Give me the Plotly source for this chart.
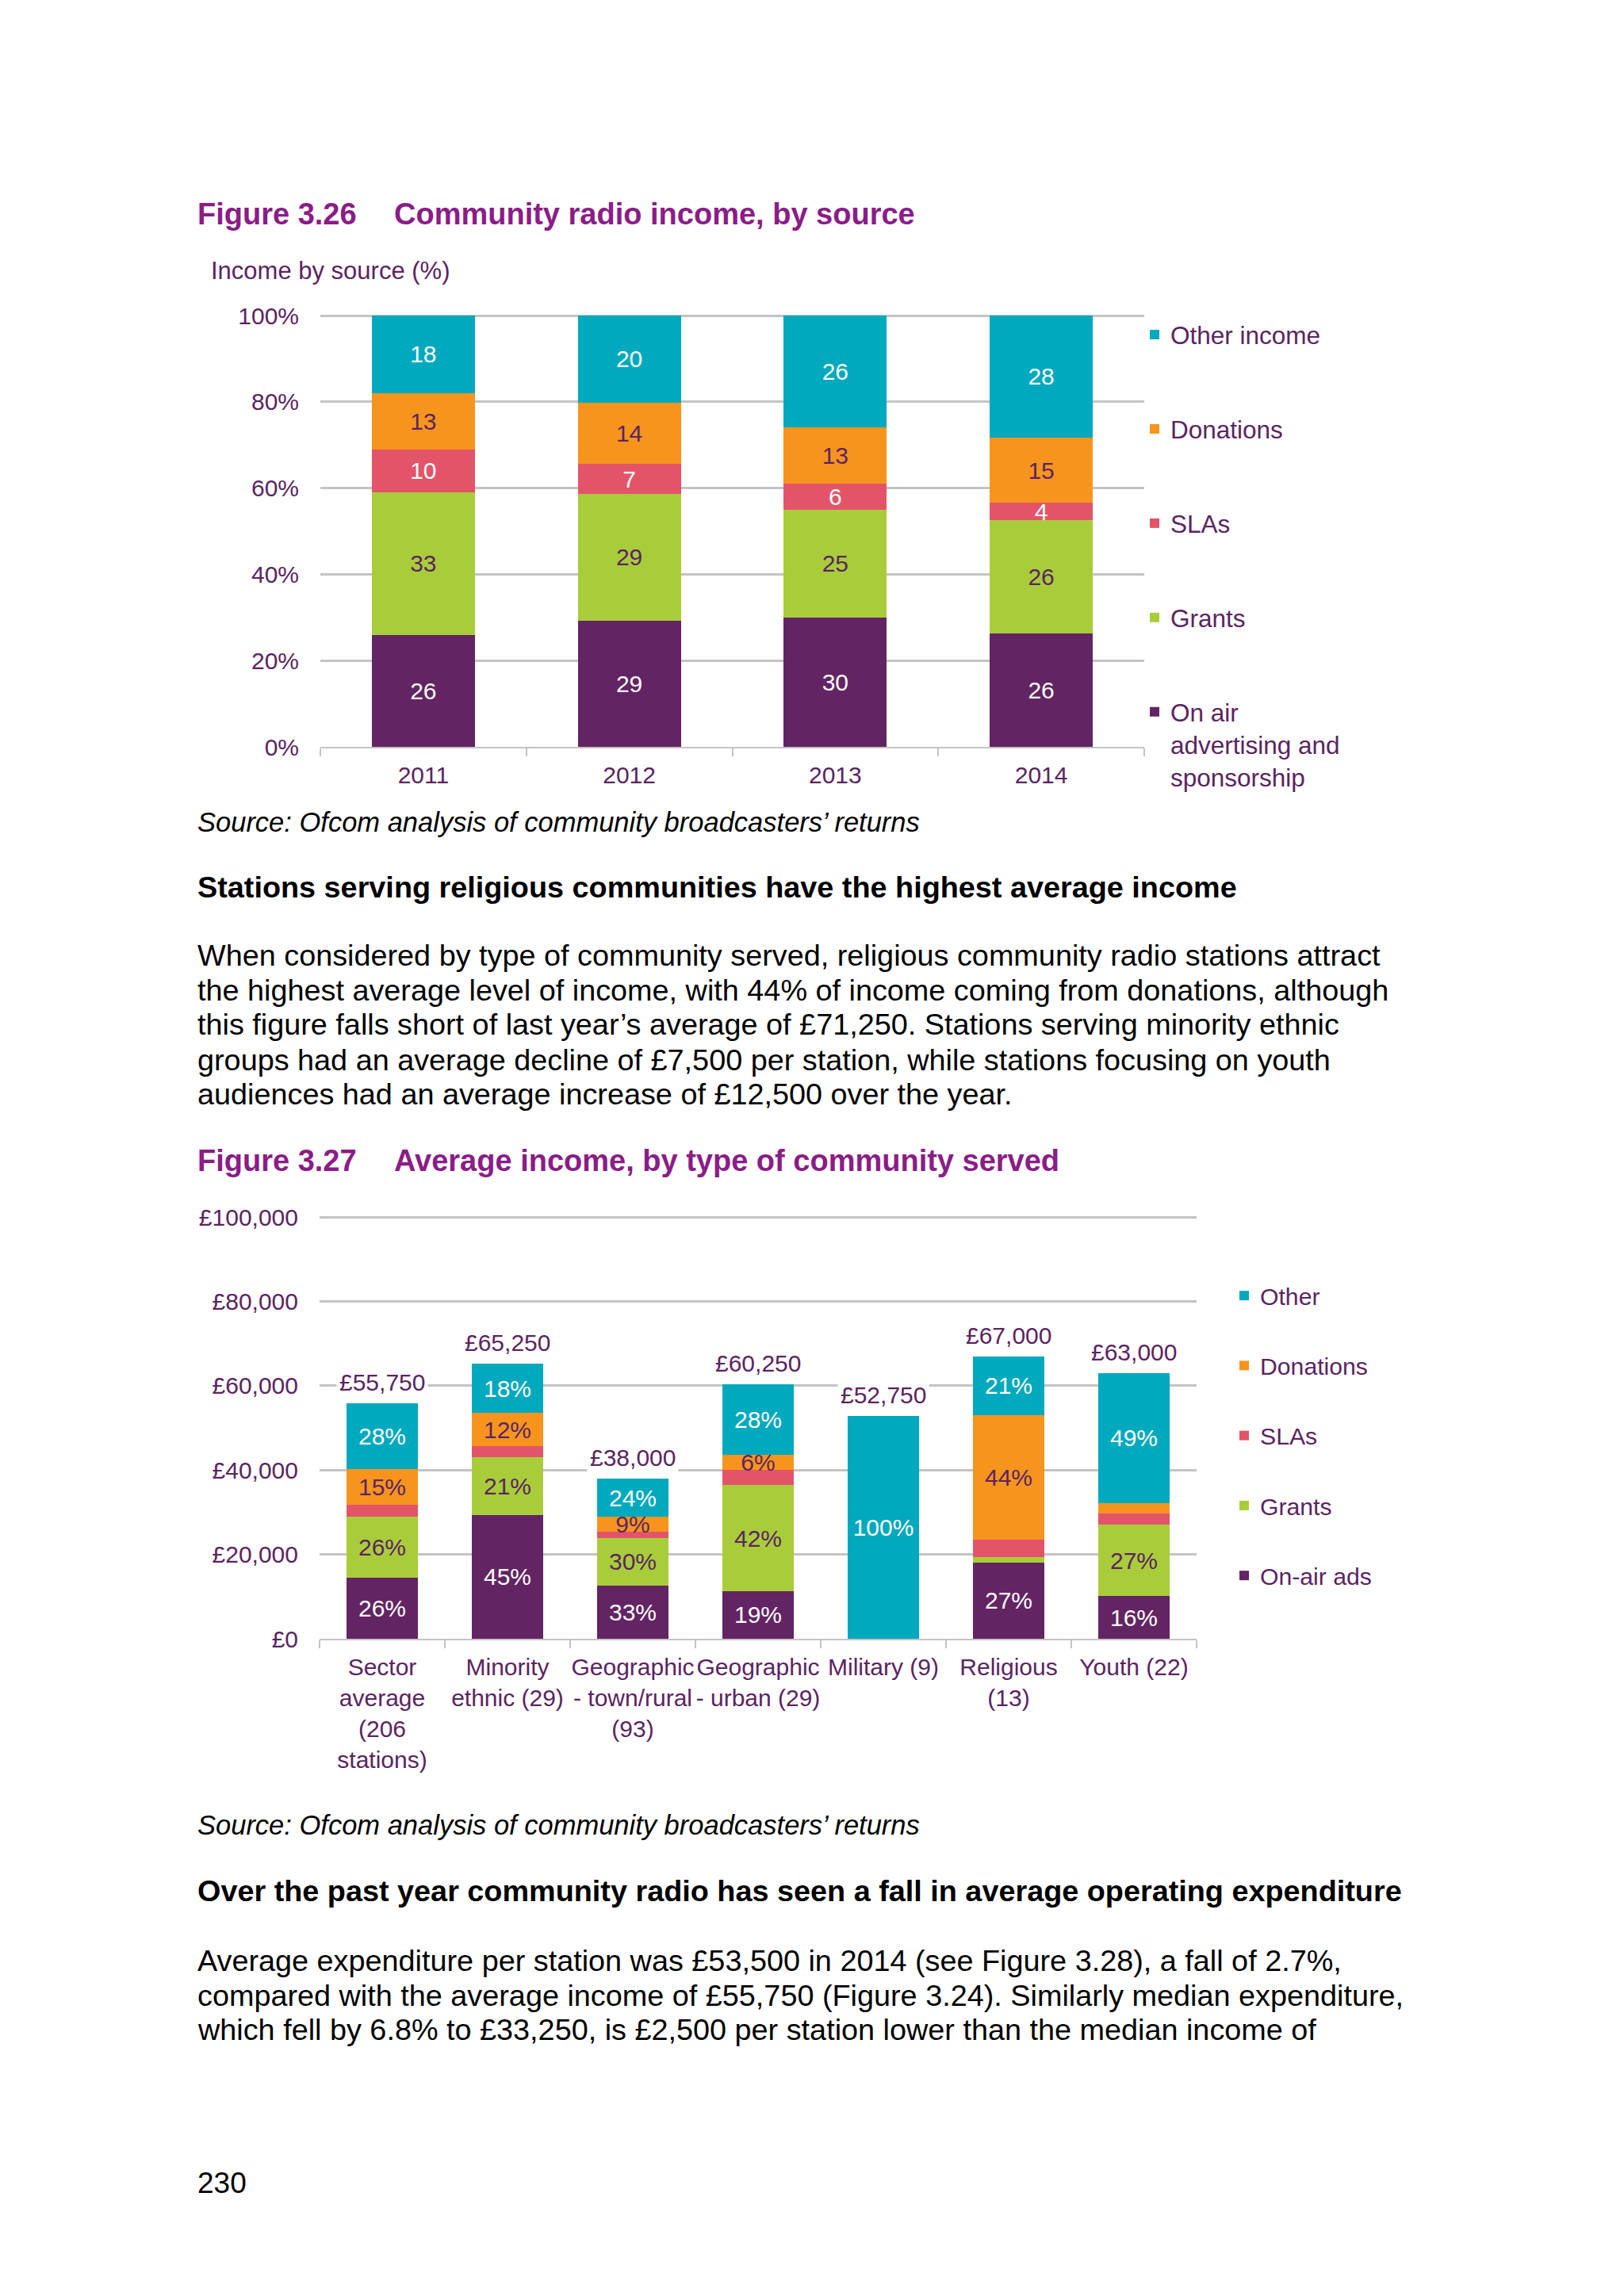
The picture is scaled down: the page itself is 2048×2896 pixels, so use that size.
import plotly.graph_objects as go

FONT = "Liberation Sans, Arial, sans-serif"
TITLE_PURPLE = "#8B1C88"
TEXT_PURPLE = "#5B2461"
GRID = "#C4C4C4"
W, H = 2048, 2896
OFF = 8  # page body margin offset of the figure

# ---------------- Figure 3.26 data ----------------
years = ["2011", "2012", "2013", "2014"]
onair_pct = [26, 29, 30, 26]
grants_pct = [33, 29, 25, 26]
slas_pct = [10, 7, 6, 4]
donations_pct = [13, 14, 13, 15]
other_pct = [18, 20, 26, 28]

# ---------------- Figure 3.27 data ----------------
communities = ["Sector<br>average<br>(206<br>stations)", "Minority<br>ethnic (29)",
               "Geographic<br>- town/rural<br>(93)", "Geographic<br>- urban (29)",
               "Military (9)", "Religious<br>(13)", "Youth (22)"]
total_income = [55750, 65250, 38000, 60250, 52750, 67000, 63000]
total_labels = ["£55,750", "£65,250", "£38,000", "£60,250", "£52,750", "£67,000", "£63,000"]
c_onair = [26, 45, 33, 19, 0, 27, 16]
c_grants = [26, 21, 30, 42, 0, 2, 27]
c_slas = [5, 4, 4, 6, 0, 6, 4]
c_donations = [15, 12, 9, 6, 0, 44, 4]
c_other = [28, 18, 24, 28, 100, 21, 49]
c_onair_lbl = ["26%", "45%", "33%", "19%", "", "27%", "16%"]
c_grants_lbl = ["26%", "21%", "30%", "42%", "", "", "27%"]
c_slas_lbl = ["", "", "", "", "", "", ""]
c_donations_lbl = ["15%", "12%", "9%", "6%", "", "44%", ""]
c_other_lbl = ["28%", "18%", "24%", "28%", "100%", "21%", "49%"]

COL = {"other": "#00A9BE", "don": "#F7941E", "sla": "#E35469", "grant": "#A9CD3A", "onair": "#632463"}


def px_x(x):
    return (x - OFF) / W


def px_y(y):
    return 1 - (y - OFF) / H


fig = go.Figure()

# chart 1 traces (100% stacked)
c1_series = [
    ("On air<br>advertising and<br>sponsorship", onair_pct, COL["onair"], "white"),
    ("Grants", grants_pct, COL["grant"], TEXT_PURPLE),
    ("SLAs", slas_pct, COL["sla"], "white"),
    ("Donations", donations_pct, COL["don"], TEXT_PURPLE),
    ("Other income", other_pct, COL["other"], "white"),
]
sums1 = [sum(v) for v in zip(onair_pct, grants_pct, slas_pct, donations_pct, other_pct)]
for i, (name, vals, col, tcol) in enumerate(c1_series):
    fig.add_trace(go.Bar(
        x=years, y=[v / s * 100 for v, s in zip(vals, sums1)],
        name=name, marker=dict(color=col, line=dict(width=0)), width=0.5,
        text=[str(v) for v in vals], texttemplate="%{text}", textposition="inside",
        insidetextanchor="middle", constraintext="none", textangle=0,
        textfont=dict(family=FONT, size=30, color=tcol),
        xaxis="x", yaxis="y", legend="legend", legendgroup="a%d" % i,
        legendrank=10 - i, hoverinfo="skip",
    ))

# chart 2 traces
c2_series = [
    ("On-air ads", c_onair, c_onair_lbl, COL["onair"], "white"),
    ("Grants", c_grants, c_grants_lbl, COL["grant"], TEXT_PURPLE),
    ("SLAs", c_slas, c_slas_lbl, COL["sla"], "white"),
    ("Donations", c_donations, c_donations_lbl, COL["don"], TEXT_PURPLE),
    ("Other", c_other, c_other_lbl, COL["other"], "white"),
]
sums2 = [sum(v) for v in zip(c_onair, c_grants, c_slas, c_donations, c_other)]
for i, (name, vals, lbls, col, tcol) in enumerate(c2_series):
    fig.add_trace(go.Bar(
        x=communities, y=[t * v / s for t, v, s in zip(total_income, vals, sums2)],
        name=name, marker=dict(color=col, line=dict(width=0)), width=0.57,
        text=lbls, texttemplate="%{text}", textposition="inside",
        insidetextanchor="middle", constraintext="none", textangle=0,
        textfont=dict(family=FONT, size=30, color=tcol),
        xaxis="x2", yaxis="y2", legend="legend2", legendgroup="b%d" % i,
        legendrank=10 - i, hoverinfo="skip",
    ))

annotations = []
# total labels above chart 2 bars
for c, t, lab in zip(communities, total_income, total_labels):
    annotations.append(dict(x=c, y=t, xref="x2", yref="y2", text=lab, showarrow=False,
                            yanchor="bottom", yshift=6, bgcolor="white", borderpad=3,
                            font=dict(family=FONT, size=30, color=TEXT_PURPLE)))


def txt(x, y, s, size, color="black", bold=False, italic=False):
    if bold:
        s = "<b>" + s + "</b>"
    if italic:
        s = "<i>" + s + "</i>"
    annotations.append(dict(x=px_x(x), y=px_y(y), xref="paper", yref="paper", text=s,
                            showarrow=False, xanchor="left", yanchor="middle", align="left",
                            font=dict(family=FONT, size=size, color=color)))


BODY = 37.8
txt(247, 270, "Figure 3.26", 38, TITLE_PURPLE, bold=True)
txt(495, 270, "Community radio income, by source", 38, TITLE_PURPLE, bold=True)
txt(264, 341, "Income by source (%)", 31, TEXT_PURPLE)
txt(247, 1037, "Source: Ofcom analysis of community broadcasters’ returns", 34.5, italic=True)
txt(247, 1119, "Stations serving religious communities have the highest average income", 37.8, bold=True)
para1 = ["When considered by type of community served, religious community radio stations attract",
         "the highest average level of income, with 44% of income coming from donations, although",
         "this figure falls short of last year’s average of £71,250. Stations serving minority ethnic",
         "groups had an average decline of £7,500 per station, while stations focusing on youth",
         "audiences had an average increase of £12,500 over the year."]
para1_y = [1205, 1249, 1292, 1337, 1380]
for line, yy in zip(para1, para1_y):
    txt(247, yy, line, BODY)
txt(247, 1464, "Figure 3.27", 38, TITLE_PURPLE, bold=True)
txt(495, 1464, "Average income, by type of community served", 38, TITLE_PURPLE, bold=True)
txt(247, 2302, "Source: Ofcom analysis of community broadcasters’ returns", 34.5, italic=True)
txt(247, 2385, "Over the past year community radio has seen a fall in average operating expenditure", 37.8, bold=True)
para2 = ["Average expenditure per station was £53,500 in 2014 (see Figure 3.28), a fall of 2.7%,",
         "compared with the average income of £55,750 (Figure 3.24). Similarly median expenditure,",
         "which fell by 6.8% to £33,250, is £2,500 per station lower than the median income of"]
para2_y = [2473, 2517, 2560]
for line, yy in zip(para2, para2_y):
    txt(247, yy, line, BODY)
txt(247, 2753, "230", 37)

axis_font = dict(family=FONT, size=30, color=TEXT_PURPLE)

# y ranges extend slightly past the top tick so the top gridline is drawn
c1_top = 101.0
c2_top = 101000.0
c1_top_px = 942 - (942 - 398) * c1_top / 100
c2_top_px = 2067 - (2067 - 1535) * c2_top / 100000

fig.update_layout(
    width=W, height=H, margin=dict(l=0, r=0, t=0, b=0, autoexpand=False),
    paper_bgcolor="white", plot_bgcolor="white",
    barmode="stack", showlegend=True,
    font=dict(family=FONT, color=TEXT_PURPLE),
    xaxis=dict(domain=[px_x(404), px_x(1443)], anchor="y", type="category", automargin=False,
               showline=True, linecolor=GRID, linewidth=2, ticks="outside", tickson="boundaries",
               ticklen=10, tickcolor=GRID, tickwidth=2, tickfont=axis_font, showgrid=False,
               ticklabelstandoff=8, tickangle=0),
    yaxis=dict(domain=[px_y(942), px_y(c1_top_px)], anchor="x", range=[0, c1_top], dtick=20,
               ticksuffix="%", showgrid=True, gridcolor=GRID, gridwidth=3, zeroline=False,
               automargin=False, showline=False, ticks="", tickfont=axis_font, ticklabelstandoff=26),
    xaxis2=dict(domain=[px_x(403), px_x(1509)], anchor="y2", type="category", automargin=False,
                showline=True, linecolor=GRID, linewidth=2, ticks="outside", tickson="boundaries",
                ticklen=10, tickcolor=GRID, tickwidth=2, tickfont=axis_font, showgrid=False,
                ticklabelstandoff=8, tickangle=0),
    yaxis2=dict(domain=[px_y(2067), px_y(c2_top_px)], anchor="x2", range=[0, c2_top], dtick=20000,
                tickprefix="£", tickformat=",d", showgrid=True, gridcolor=GRID, gridwidth=3,
                automargin=False, zeroline=False, showline=False, ticks="", tickfont=axis_font,
                ticklabelstandoff=26),
    legend=dict(x=px_x(1436), y=px_y(395), xanchor="left", yanchor="top",
                traceorder="grouped", tracegroupgap=75, valign="top",
                font=dict(family=FONT, size=31.5, color=TEXT_PURPLE), bgcolor="rgba(0,0,0,0)"),
    legend2=dict(x=px_x(1549), y=px_y(1608), xanchor="left", yanchor="top",
                 traceorder="grouped", tracegroupgap=46, valign="top",
                 font=dict(family=FONT, size=30.2, color=TEXT_PURPLE), bgcolor="rgba(0,0,0,0)"),
    annotations=annotations,
)

fig.write_html("out.html")
